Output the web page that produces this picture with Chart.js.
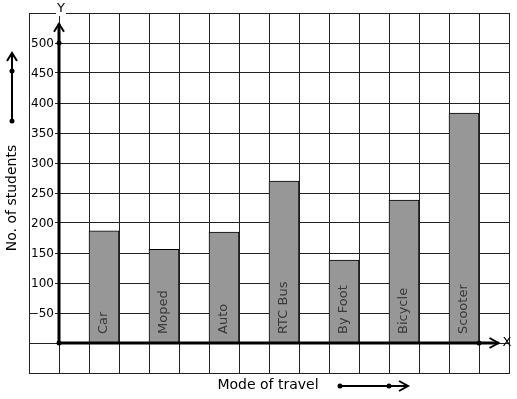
<!DOCTYPE html>
<html>
<head>
<meta charset="utf-8">
<script src="https://cdn.jsdelivr.net/npm/chart.js@4.4.1/dist/chart.umd.min.js"></script>
<style>
    html, body { margin: 0; padding: 0; background: #fff; }
    canvas { display: block; }
</style>
</head>
<body>
<canvas id="travel" width="517" height="399"></canvas>
<script>
// Data
const modes = ["Car", "Moped", "Auto", "RTC Bus", "By Foot", "Bicycle", "Scooter"];
const students = [187, 156, 185, 270, 138, 238, 383];
const positions = [1.5, 3.5, 5.5, 7.5, 9.5, 11.5, 13.5];
const yTicks = [50, 100, 150, 200, 250, 300, 350, 400, 450, 500];

// Element
let canvasElement = document.querySelector("#travel");

const font = '"DejaVu Sans", sans-serif';

let data = positions.map((x, i) => ({x: x, y: students[i]}));

// Function
const arrow = (ctx, tipX, tipY, dir) => {
    ctx.beginPath();
    if (dir === "up") {
        ctx.moveTo(tipX - 5, tipY + 8);
        ctx.lineTo(tipX, tipY);
        ctx.lineTo(tipX + 5, tipY + 8);
    } else {
        ctx.moveTo(tipX - 9, tipY - 5);
        ctx.lineTo(tipX, tipY);
        ctx.lineTo(tipX - 9, tipY + 5);
    }
    ctx.stroke();
}

const dot = (ctx, x, y) => {
    ctx.beginPath();
    ctx.arc(x, y, 2.5, 0, Math.PI * 2);
    ctx.fill();
}

const labelBox = (ctx, text, x, y, align) => {
    let w = ctx.measureText(text).width;
    let left = align === "right" ? x - w : align === "center" ? x - w / 2 : x;
    ctx.fillStyle = "#fff";
    ctx.fillRect(left - 1, y - 7, w + 2, 14);
    ctx.fillStyle = "#000";
    ctx.textAlign = align;
    ctx.fillText(text, x, y);
}

const decorations = {
    id: "decorations",
    afterDatasetsDraw(chart) {
        let ctx = chart.ctx;
        let xs = chart.scales.x;
        let ys = chart.scales.y;
        let x0 = xs.getPixelForValue(0);
        let y0 = ys.getPixelForValue(0);
        ctx.save();

        // bar labels
        ctx.font = "13px " + font;
        ctx.fillStyle = "rgba(40,40,40,0.85)";
        ctx.textAlign = "left";
        ctx.textBaseline = "middle";
        modes.forEach((m, i) => {
            ctx.save();
            ctx.translate(xs.getPixelForValue(positions[i]), y0 - 9);
            ctx.rotate(-Math.PI / 2);
            ctx.fillText(m, 0, 0);
            ctx.restore();
        });

        // axes
        ctx.strokeStyle = "#000";
        ctx.fillStyle = "#000";
        ctx.lineWidth = 3;
        ctx.beginPath();
        ctx.moveTo(x0, y0);
        ctx.lineTo(x0, ys.getPixelForValue(532));
        ctx.moveTo(x0, y0);
        ctx.lineTo(xs.getPixelForValue(14.65), y0);
        ctx.stroke();
        ctx.lineWidth = 2;
        arrow(ctx, x0, ys.getPixelForValue(532), "up");
        arrow(ctx, xs.getPixelForValue(14.65), y0, "right");
        dot(ctx, x0, y0);
        dot(ctx, x0, ys.getPixelForValue(500));
        dot(ctx, xs.getPixelForValue(14), y0);

        // tick labels
        ctx.font = "12px " + font;
        ctx.textBaseline = "middle";
        yTicks.forEach(v => {
            labelBox(ctx, String(v), x0 - 5, ys.getPixelForValue(v) + 1, "right");
        });
        ctx.font = "13px " + font;
        labelBox(ctx, "Y", x0 + 2, 9, "center");
        ctx.textAlign = "left";
        ctx.fillText("X", xs.getPixelForValue(14.65) + 4, y0);

        // axis titles
        ctx.font = "14px " + font;
        ctx.fillStyle = "#000";
        ctx.textAlign = "center";
        ctx.fillText("Mode of travel", 268, 385);
        ctx.save();
        ctx.translate(12, 198);
        ctx.rotate(-Math.PI / 2);
        ctx.fillText("No. of students", 0, 0);
        ctx.restore();

        ctx.lineWidth = 2;
        ctx.beginPath();
        ctx.moveTo(12, 121);
        ctx.lineTo(12, 54);
        ctx.stroke();
        arrow(ctx, 12, 53, "up");
        dot(ctx, 12, 71);
        dot(ctx, 12, 121);

        ctx.beginPath();
        ctx.moveTo(340, 386);
        ctx.lineTo(407, 386);
        ctx.stroke();
        arrow(ctx, 408, 386, "right");
        dot(ctx, 340, 386);
        dot(ctx, 389, 386);

        ctx.restore();
    }
}

// Chart
new Chart(canvasElement, {
    type: "bar",
    data: {
        datasets: [
            {
                label: "No. of students",
                data: data,
                backgroundColor: "#979797",
                borderColor: "#000",
                borderWidth: 1,
                barThickness: 30
            }
        ]
    },
    options: {
        responsive: false,
        animation: false,
        layout: {
            padding: {left: 29, top: 13, right: 8, bottom: 26}
        },
        plugins: {
            legend: {display: false},
            tooltip: {enabled: false}
        },
        scales: {
            x: {
                type: "linear",
                min: -1,
                max: 15,
                offset: false,
                ticks: {display: false, stepSize: 1},
                grid: {color: "#222", lineWidth: 1, drawTicks: false, offset: false},
                border: {color: "#222"}
            },
            y: {
                min: -50,
                max: 550,
                ticks: {display: false, stepSize: 50},
                grid: {color: "#222", lineWidth: 1, drawTicks: false},
                border: {color: "#222"}
            }
        }
    },
    plugins: [decorations]
});
</script>
</body>
</html>
